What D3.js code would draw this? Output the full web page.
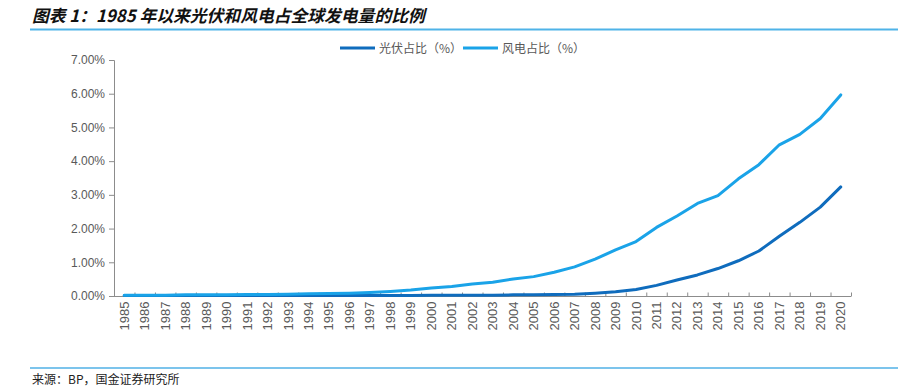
<!DOCTYPE html>
<html>
<head>
<meta charset="utf-8">
<script src="https://cdn.jsdelivr.net/npm/d3@7"></script>
<style>
  html, body { margin: 0; padding: 0; background: #fff; }
  text { font-family: "Liberation Sans", Arial, sans-serif; }
</style>
</head>
<body>
<div id="chart"></div>
<script>
// years 1985..2020
const years = d3.range(1985, 2021).map(String);

// share of global power generation, %
const solar = [0, 0, 0, 0, 0, 0, 0, 0, 0, 0, 0, 0, 0, 0, 0, 0.01, 0.01, 0.01, 0.01, 0.02,
  0.02, 0.03, 0.04, 0.07, 0.11, 0.18, 0.3, 0.46, 0.61, 0.8, 1.03, 1.32, 1.76, 2.17, 2.62, 3.22];
const wind = [0.01, 0.01, 0.01, 0.02, 0.02, 0.02, 0.03, 0.03, 0.04, 0.05, 0.06, 0.07, 0.09, 0.12, 0.16, 0.22,
  0.27, 0.34, 0.39, 0.49, 0.56, 0.69, 0.85, 1.08, 1.35, 1.6, 2.02, 2.36, 2.73, 2.96, 3.46, 3.88, 4.47, 4.78, 5.25, 5.95];

const yTicks = [0, 1, 2, 3, 4, 5, 6, 7];
const seriesNames = ['光伏占比（%）', '风电占比（%）'];
const colors = ['#0f6cbd', '#1aa3e8'];

const width = 923, height = 392;
const svg = d3.select('#chart').append('svg')
  .attr('width', width).attr('height', height);

// title and rules
svg.append('text')
  .attr('x', 32).attr('y', 22)
  .style('font-family', '"Noto Sans CJK SC", sans-serif')
  .style('font-size', '16.8px').style('font-weight', 'bold').style('font-style', 'italic')
  .attr('fill', '#111')
  .text('图表 1：1985 年以来光伏和风电占全球发电量的比例');
svg.append('line').attr('x1', 30).attr('x2', 898).attr('y1', 29.5).attr('y2', 29.5)
  .attr('stroke', '#4fb3e8').attr('stroke-width', 2);
svg.append('line').attr('x1', 30).attr('x2', 898).attr('y1', 368).attr('y2', 368)
  .attr('stroke', '#7cc4ec').attr('stroke-width', 2);
svg.append('text')
  .attr('x', 32).attr('y', 384)
  .style('font-family', '"Noto Sans CJK SC", sans-serif')
  .style('font-size', '12px').attr('fill', '#222')
  .text('来源：BP，国金证券研究所');

// scales
const x = d3.scaleBand().domain(years).range([114, 851]);
const y = d3.scaleLinear().domain([0, 7]).range([296, 60]);

// y axis
const yAxis = svg.append('g').attr('transform', 'translate(114,0)')
  .call(d3.axisLeft(y).tickValues(yTicks).tickSize(5).tickPadding(4)
    .tickFormat(d => d.toFixed(2) + '%'));
yAxis.selectAll('path, line').attr('stroke', '#8c8c8c');
yAxis.selectAll('text').attr('fill', '#595959').style('font-size', '12px');
yAxis.select('.domain').attr('d', 'M-5,60.5H0.5V296.5');

// x axis with ticks at band boundaries
const xg = svg.append('g').attr('transform', 'translate(0,296.5)');
xg.append('line').attr('x1', 114).attr('x2', 851).attr('stroke', '#8c8c8c');
xg.selectAll('line.tk').data(years.concat(['end'])).enter().append('line')
  .attr('class', 'tk')
  .attr('x1', (d, i) => i < years.length ? x(d) + 0.5 : x.range()[1] + 0.5)
  .attr('x2', (d, i) => i < years.length ? x(d) + 0.5 : x.range()[1] + 0.5)
  .attr('y1', -4).attr('y2', 0)
  .attr('stroke', '#8c8c8c');
xg.selectAll('text').data(years).enter().append('text')
  .attr('transform', d => 'translate(' + (x(d) + x.bandwidth() / 2 + 4.5) + ',5) rotate(-90)')
  .attr('text-anchor', 'end')
  .attr('fill', '#595959').style('font-size', '13px')
  .text(d => d);

// lines
const line = d3.line()
  .x((d, i) => x(years[i]) + x.bandwidth() / 2)
  .y(d => y(d) - 0.5);
[solar, wind].forEach((s, k) => {
  svg.append('path').datum(s)
    .attr('d', line)
    .attr('fill', 'none')
    .attr('stroke', colors[k])
    .attr('stroke-width', 3)
    .attr('stroke-linejoin', 'round')
    .attr('stroke-linecap', 'round');
});

// legend
const legendX = [340, 463];
seriesNames.forEach((n, k) => {
  const g = svg.append('g').attr('transform', 'translate(' + legendX[k] + ',48)');
  g.append('line').attr('x1', 0).attr('x2', 35).attr('stroke', colors[k]).attr('stroke-width', 3);
  g.append('text').attr('x', 39).attr('y', 4.5)
    .style('font-family', '"Noto Sans CJK SC", sans-serif')
    .style('font-size', '12px').attr('fill', '#595959')
    .text(n);
});
</script>
</body>
</html>
